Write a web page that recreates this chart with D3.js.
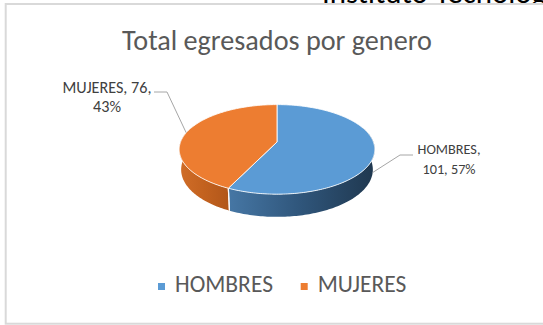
<!DOCTYPE html>
<html>
<head>
<meta charset="utf-8">
<script src="https://cdn.jsdelivr.net/npm/d3@7"></script>
<style>
  html, body { margin: 0; padding: 0; background: #fff; }
  svg { display: block; }
  text { font-family: Carlito, Calibri, "Open Sans", sans-serif; }
</style>
</head>
<body>
<svg id="chart" width="543" height="325"></svg>
<script>
// Egresados por género
const categories = ["HOMBRES", "MUJERES"];
const values = [101, 76];
const chartTitle = "Total egresados por genero";
const headerText = "Instituto Tecnológico";

// Styles
const topColors = ["#5B9BD5", "#ED7D31"];
const sideStops = [
  ["#4677a5", "#2f557a", "#1f374e"],
  ["#d06d28", "#c3621f", "#b2571a"]
];

const svg = d3.select("#chart");
const W = 543, H = 325;

// Fit a text element's font size so its rendered width equals target
function fitWidth(sel, target) {
  const base = parseFloat(sel.attr("font-size"));
  const w = sel.node().getComputedTextLength();
  const fs = base * target / w;
  sel.attr("font-size", fs);
  return fs;
}

// Text of the page behind the chart, cut off at the top
const hdr = svg.append("text")
  .attr("x", 322).attr("y", 3)
  .attr("font-size", 30).attr("fill", "#000")
  .text("Instituto");
fitWidth(hdr, 106);
hdr.text(headerText);

// Chart frame
svg.append("rect")
  .attr("x", 5.7).attr("y", 4)
  .attr("width", W + 20).attr("height", 319.7)
  .attr("fill", "#fff")
  .attr("stroke", "#d9d9d9").attr("stroke-width", 2);

// Title
const title = svg.append("text")
  .attr("x", 277).attr("y", 50)
  .attr("text-anchor", "middle")
  .attr("font-size", 24).attr("fill", "#595959")
  .text(chartTitle);
fitWidth(title, 310);

// 3D pie with a perspective camera
const total = d3.sum(values);
const pie = d3.pie().sort(null).startAngle(0).endAngle(2 * Math.PI);
const arcs = pie(values);

const cam = {
  cx: 277, cy: 142,
  F: 522, r: 0.1848, h: 0.0439,
  sinA: 0.4517, cosA: 0.892
};

// angle measured clockwise from 12 o'clock; y = 0 top face, y = -h bottom
function proj(theta, yy) {
  const X = cam.r * Math.sin(theta);
  const Z = -cam.r * Math.cos(theta);
  const depth = 1 - yy * cam.sinA - Z * cam.cosA;
  const up = yy * cam.cosA - Z * cam.sinA;
  return [cam.cx + cam.F * X / depth, cam.cy - cam.F * up / depth];
}

function arcPts(a0, a1, yy) {
  const n = Math.max(2, Math.ceil(Math.abs(a1 - a0) / 0.02));
  return d3.range(n + 1).map(i => proj(a0 + (a1 - a0) * i / n, yy));
}

const line = d3.line();
const defs = svg.append("defs");

sideStops.forEach((stops, i) => {
  const g = defs.append("linearGradient")
    .attr("id", "side" + i)
    .attr("gradientUnits", "userSpaceOnUse")
    .attr("x1", i === 0 ? 228 : 179).attr("x2", i === 0 ? 376 : 228)
    .attr("y1", 0).attr("y2", 0);
  stops.forEach((c, k) => g.append("stop")
    .attr("offset", k / (stops.length - 1)).attr("stop-color", c));
});

// Visible side wall range (front half)
const sideMin = 70 * Math.PI / 180, sideMax = 290 * Math.PI / 180;

const gPie = svg.append("g");

arcs.forEach((a, i) => {
  const s0 = Math.max(a.startAngle, sideMin);
  const s1 = Math.min(a.endAngle, sideMax);
  if (s1 > s0) {
    const pts = arcPts(s0, s1, 0).concat(arcPts(s1, s0, -cam.h));
    gPie.append("path")
      .attr("d", line(pts) + "Z")
      .attr("fill", `url(#side${i})`);
  }
});

// seam on the side wall
arcs.forEach(a => {
  [a.startAngle, a.endAngle].forEach(t => {
    if (t > sideMin && t < sideMax) {
      gPie.append("path")
        .attr("d", line([proj(t, 0), proj(t, -cam.h)]))
        .attr("stroke", "#fff").attr("stroke-width", 1.2)
        .attr("stroke-opacity", 0.9);
    }
  });
});

arcs.forEach((a, i) => {
  const pts = [proj(0, 0).map((v, k) => k === 0 ? cam.cx : cam.cy)]
    .concat(arcPts(a.startAngle, a.endAngle, 0));
  gPie.append("path")
    .attr("d", line(pts) + "Z")
    .attr("fill", topColors[i])
    .attr("stroke", "#fff").attr("stroke-width", 1)
    .attr("stroke-opacity", 0.85)
    .attr("stroke-linejoin", "round");
});

// Data labels with leader lines
const labelLayout = [
  { lines: [0, 1], x: 449, y1: 154, y2: 174, anchorY: -cam.h,
    elbow: [[413, 155], [400, 155]], fitLine: 0, fitW: 63 },
  { lines: [0, 1], x: 107, y1: 93, y2: 112, anchorY: 0,
    elbow: [[154, 92], [167, 92]], fitLine: 0, fitW: 89 }
];

arcs.forEach((a, i) => {
  const L = labelLayout[i];
  const pct = Math.round(a.value / total * 100);
  const texts = i === 0
    ? [`${categories[i]},`, `${a.value}, ${pct}%`]
    : [`${categories[i]}, ${a.value},`, `${pct}%`];
  const mid = (a.startAngle + a.endAngle) / 2;
  const anchor = proj(mid, L.anchorY);
  svg.append("path")
    .attr("d", line(L.elbow.concat([anchor])))
    .attr("fill", "none")
    .attr("stroke", "#a6a6a6").attr("stroke-width", 1);
  const t1 = svg.append("text")
    .attr("x", L.x).attr("y", L.y1)
    .attr("text-anchor", "middle").attr("font-size", 13)
    .attr("fill", "#404040").text(texts[0]);
  const fs = fitWidth(t1, L.fitW);
  svg.append("text")
    .attr("x", L.x).attr("y", L.y2)
    .attr("text-anchor", "middle").attr("font-size", fs)
    .attr("fill", "#404040").text(texts[1]);
});

// Legend
const legendX = [158, 300.7];
const legend = svg.append("g");
let legendFs = null;
categories.forEach((c, i) => {
  legend.append("rect")
    .attr("x", legendX[i]).attr("y", 283)
    .attr("width", 7).attr("height", 7)
    .attr("fill", topColors[i]);
  const t = legend.append("text")
    .attr("x", legendX[i] + 17).attr("y", 292)
    .attr("font-size", legendFs || 20).attr("fill", "#595959")
    .text(c);
  if (!legendFs) legendFs = fitWidth(t, 98);
});
</script>
</body>
</html>
